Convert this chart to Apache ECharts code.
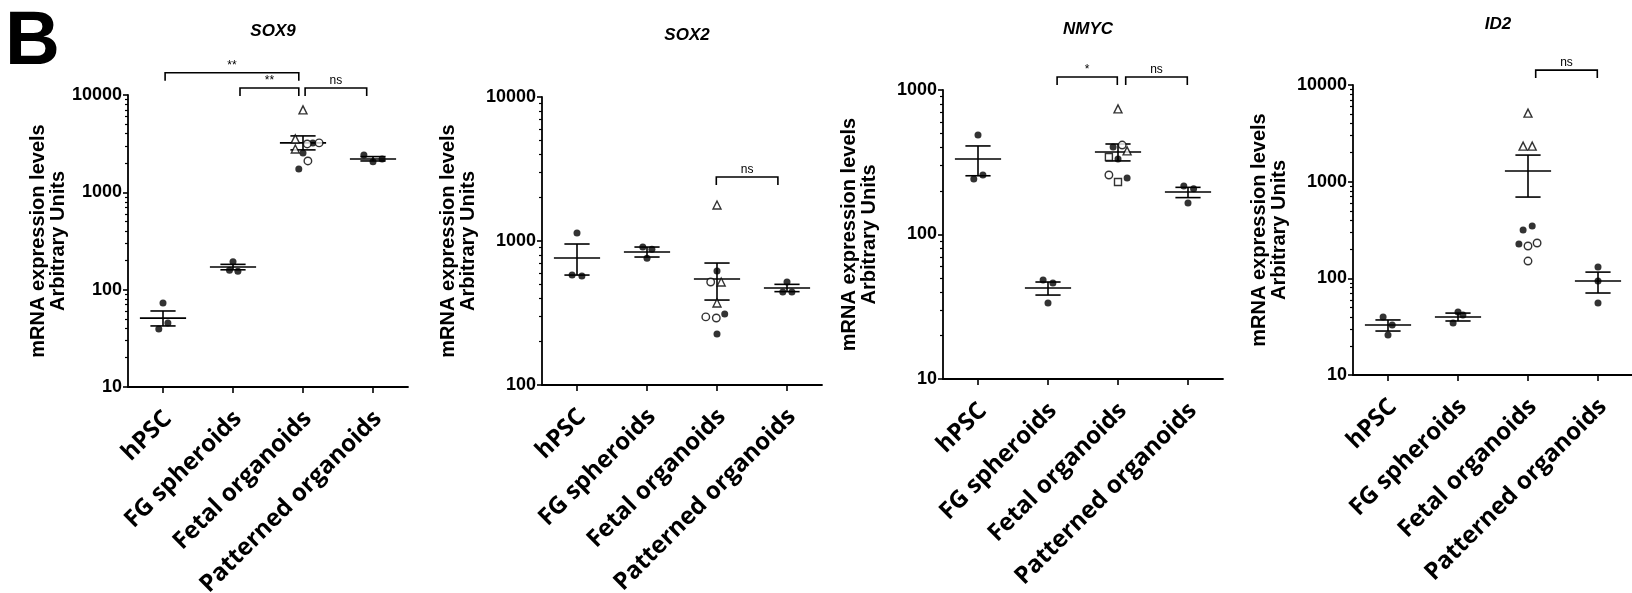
<!DOCTYPE html>
<html><head><meta charset="utf-8">
<script src="https://cdn.jsdelivr.net/npm/echarts@6/dist/echarts.min.js"></script>
<style>html,body{margin:0;padding:0;background:#fff}#c{width:1632px;height:593px}</style>
</head><body><div id="c"></div>
<script>
// ---------------- DATA ----------------
const categories = ['hPSC', 'FG spheroids', 'Fetal organoids', 'Patterned organoids'];
const genes = ['SOX9', 'SOX2', 'NMYC', 'ID2'];
const yMin = [10, 100, 10, 10];
const yMax = [10000, 10000, 1000, 10000];

// SOX9
const sox9Values = [[73, 45.5, 39.5], [193, 158, 155], [7030, 3540, 2790, 3140, 3220, 3220, 2540, 2100, 1740], [2420, 2060, 2200]];
const sox9Kinds  = [['f','f','f'], ['f','f','f'], ['t','t','t','o','f','o','f','o','f'], ['f','f','f']];
const sox9Jitter = [[0, 0.07, -0.06], [0, -0.05, 0.07], [0, -0.11, -0.11, 0.06, 0.14, 0.23, 0, 0.07, -0.06], [-0.13, 0, 0.13]];
const sox9Mean = [51, 171, 3220, 2200];
const sox9SemHigh = [60.4, 182, 3800, 2330];
const sox9SemLow = [42.4, 160, 2730, 2100];
const sox9Brackets = [[0.03, 1.94, 16900], [1.1, 1.94, 11800], [2.03, 2.91, 11800]];
const sox9BracketLabels = ['**', '**', 'ns'];

// SOX2
const sox2Values = [[1137, 581, 572], [910, 875, 760], [1778, 619, 519, 519, 371, 297, 292, 311, 226], [519, 442, 442]];
const sox2Kinds  = [['f','f','f'], ['f','f','f'], ['t','f','o','t','t','o','o','f','f'], ['f','f','f']];
const sox2Jitter = [[0, -0.07, 0.07], [-0.06, 0.07, 0], [0, 0, -0.09, 0.06, 0, -0.16, -0.01, 0.11, 0], [0, -0.06, 0.07]];
const sox2Mean = [762, 839, 545, 472];
const sox2SemHigh = [953, 908, 703, 500];
const sox2SemLow = [580, 774, 389, 445];
const sox2Brackets = [[1.99, 2.87, 2780]];
const sox2BracketLabels = ['ns'];

// NMYC
const nmycValues = [[488, 242, 258], [48.4, 46.1, 33.6], [740, 404, 416, 379, 344, 333, 258, 231, 246], [217, 207, 165]];
const nmycKinds  = [['f','f','f'], ['f','f','f'], ['t','f','o','t','s','f','o','s','f'], ['f','f','f']];
const nmycJitter = [[0, -0.06, 0.07], [-0.07, 0.07, 0], [0, -0.07, 0.06, 0.13, -0.13, 0, -0.13, 0, 0.13], [-0.06, 0.08, 0]];
const nmycMean = [333, 42.6, 372, 197];
const nmycSemHigh = [410, 46.9, 423, 212];
const nmycSemLow = [255, 38.1, 323, 180];
const nmycBrackets = [[1.13, 1.99, 1230], [2.11, 2.99, 1230]];
const nmycBracketLabels = ['*', 'ns'];

// ID2
const id2Values = [[39.8, 32.9, 25.9], [44.8, 41.7, 34.5], [5120, 2330, 2330, 316, 347, 226, 216, 232, 151], [131, 93.8, 55.6]];
const id2Kinds  = [['f','f','f'], ['f','f','f'], ['t','t','t','f','f','f','o','o','o'], ['f','f','f']];
const id2Jitter = [[-0.07, 0.06, 0], [0, 0.07, -0.07], [0, -0.07, 0.06, -0.07, 0.06, -0.13, 0, 0.13, 0], [0, 0, 0]];
const id2Mean = [32.9, 39.8, 1288, 93.8];
const id2SemHigh = [37.1, 43.7, 1884, 116];
const id2SemLow = [28.5, 36.2, 693, 70.5];
const id2Brackets = [[2.11, 2.99, 14260]];
const id2BracketLabels = ['ns'];

// ---------------- LAYOUT / STYLE ----------------
const grids = [
  {left: 128, top: 95, width: 280, height: 292},
  {left: 542, top: 97, width: 280, height: 288},
  {left: 943, top: 90, width: 280, height: 289},
  {left: 1353, top: 85, width: 280, height: 290}
];
const titleTops = [18, 22, 16, 11];
const nameGaps = [60, 64, 64, 64];
const MEAN_HW = 0.33, CAP_HW = 0.18, LEG = 8;
const LABEL_SHIFT = 0.07;
const FONT = "'Liberation Sans', Arial, sans-serif";

const symbolStyles = {
  f: {symbol: 'circle', size: 7, itemStyle: {color: '#000'}},
  o: {symbol: 'circle', size: 7.5, itemStyle: {color: '#fff', borderColor: '#000', borderWidth: 1.4}},
  t: {symbol: 'triangle', size: 8, itemStyle: {color: '#fff', borderColor: '#000', borderWidth: 1.4}},
  s: {symbol: 'rect', size: 7, itemStyle: {color: '#fff', borderColor: '#000', borderWidth: 1.4}}
};

const panels = [
  {values: sox9Values, kinds: sox9Kinds, jitter: sox9Jitter, mean: sox9Mean, hi: sox9SemHigh, lo: sox9SemLow, br: sox9Brackets, brl: sox9BracketLabels},
  {values: sox2Values, kinds: sox2Kinds, jitter: sox2Jitter, mean: sox2Mean, hi: sox2SemHigh, lo: sox2SemLow, br: sox2Brackets, brl: sox2BracketLabels},
  {values: nmycValues, kinds: nmycKinds, jitter: nmycJitter, mean: nmycMean, hi: nmycSemHigh, lo: nmycSemLow, br: nmycBrackets, brl: nmycBracketLabels},
  {values: id2Values, kinds: id2Kinds, jitter: id2Jitter, mean: id2Mean, hi: id2SemHigh, lo: id2SemLow, br: id2Brackets, brl: id2BracketLabels}
];

function renderErr(params, api) {
  const x = api.value(0), m = api.value(1), lo = api.value(2), hi = api.value(3);
  const st = {stroke: '#000', lineWidth: 1.6};
  const seg = (a, b) => ({type: 'line', shape: {x1: a[0], y1: a[1], x2: b[0], y2: b[1]}, style: st});
  return {type: 'group', children: [
    seg(api.coord([x - MEAN_HW, m]), api.coord([x + MEAN_HW, m])),
    seg(api.coord([x - CAP_HW, lo]), api.coord([x + CAP_HW, lo])),
    seg(api.coord([x - CAP_HW, hi]), api.coord([x + CAP_HW, hi])),
    seg(api.coord([x, lo]), api.coord([x, hi]))
  ]};
}
function makeBracket(labels) {
  return function (params, api) {
    const a = api.coord([api.value(0), api.value(2)]);
    const b = api.coord([api.value(1), api.value(2)]);
    return {type: 'group', children: [
      {type: 'polyline', shape: {points: [[a[0], a[1] + LEG], a, b, [b[0], b[1] + LEG]]}, style: {stroke: '#000', lineWidth: 1.6, fill: null}},
      {type: 'text', x: (a[0] + b[0]) / 2, y: a[1] - 7, style: {text: labels[params.dataIndex], align: 'center', verticalAlign: 'middle', fontSize: 12, fontFamily: FONT, fill: '#000'}}
    ]};
  };
}

const option = {
  animation: false,
  backgroundColor: '#fff',
  title: [{text: 'B', left: 0, top: 0, textStyle: {fontSize: 76, fontWeight: 'bold', fontFamily: FONT, color: '#000'}}]
    .concat(genes.map((g, i) => ({
      text: g, left: grids[i].left + grids[i].width / 2, top: titleTops[i], textAlign: 'center',
      textStyle: {fontSize: 17, fontWeight: 'bold', fontStyle: 'italic', fontFamily: FONT, color: '#000'}
    }))),
  grid: grids.map(g => Object.assign({outerBoundsMode: 'none', containLabel: false}, g)),
  xAxis: grids.map((g, i) => ({
    type: 'value', gridIndex: i, min: -0.5, max: 3.5,
    splitLine: {show: false},
    axisLine: {show: true, onZero: false, lineStyle: {color: '#000', width: 1.8}},
    axisTick: {show: true, customValues: [0, 1, 2, 3], length: 6, lineStyle: {color: '#000', width: 1.6}},
    axisLabel: {
      show: true, customValues: categories.map((c, k) => k + LABEL_SHIFT), rotate: 45, margin: 28,
      formatter: v => categories[Math.round(v - LABEL_SHIFT)],
      fontFamily: "'Open Sans', sans-serif", fontWeight: 'bold', fontSize: 24, color: '#000'
    }
  })),
  yAxis: [].concat(...grids.map((g, i) => {
    const lo = Math.log10(yMin[i]), hi = Math.log10(yMax[i]);
    const minor = [];
    for (let d = lo; d < hi; d++) for (let m = 2; m <= 9; m++) minor.push(d + Math.log10(m));
    return [{
      type: 'log', logBase: 10, gridIndex: i, min: yMin[i], max: yMax[i], position: 'left',
      splitLine: {show: false},
      axisLine: {show: true, onZero: false, lineStyle: {color: '#000', width: 1.8}},
      axisTick: {show: true, length: 5, lineStyle: {color: '#000', width: 1.6}},
      axisLabel: {formatter: v => String(Math.round(v)), fontFamily: FONT, fontWeight: 'bold', fontSize: 18, color: '#000', margin: 6},
      name: 'mRNA expression levels\nArbitrary Units', nameLocation: 'middle', nameRotate: 90, nameGap: nameGaps[i],
      nameTextStyle: {fontFamily: FONT, fontWeight: 'bold', fontSize: 20, lineHeight: 20, color: '#000'}
    }, {
      type: 'value', gridIndex: i, min: lo, max: hi, position: 'left', offset: 0,
      splitLine: {show: false},
      axisLine: {show: false, onZero: false},
      axisLabel: {show: false},
      axisTick: {show: true, customValues: minor, length: 3, lineStyle: {color: '#000', width: 1.2}}
    }];
  })),
  series: []
};

panels.forEach((p, i) => {
  option.series.push({
    type: 'custom', xAxisIndex: i, yAxisIndex: 2 * i, clip: false, silent: true, z: 2,
    renderItem: renderErr, encode: {x: 0, y: [1, 2, 3]},
    data: categories.map((c, k) => [k, p.mean[k], p.lo[k], p.hi[k]])
  });
  Object.keys(symbolStyles).forEach(kind => {
    const data = [];
    p.values.forEach((grp, k) => grp.forEach((v, j) => {
      if (p.kinds[k][j] === kind) data.push([k + p.jitter[k][j], v]);
    }));
    if (!data.length) return;
    const s = symbolStyles[kind];
    option.series.push({
      type: 'scatter', xAxisIndex: i, yAxisIndex: 2 * i, silent: true, z: 3,
      symbol: s.symbol, symbolSize: s.size, itemStyle: s.itemStyle, data
    });
  });
  option.series.push({
    type: 'custom', xAxisIndex: i, yAxisIndex: 2 * i, clip: false, silent: true, z: 2,
    renderItem: makeBracket(p.brl), encode: {x: [0, 1], y: 2}, data: p.br
  });
});

const chart = echarts.init(document.getElementById('c'), null, {renderer: 'canvas'});
chart.setOption(option);
</script>
</body></html>
